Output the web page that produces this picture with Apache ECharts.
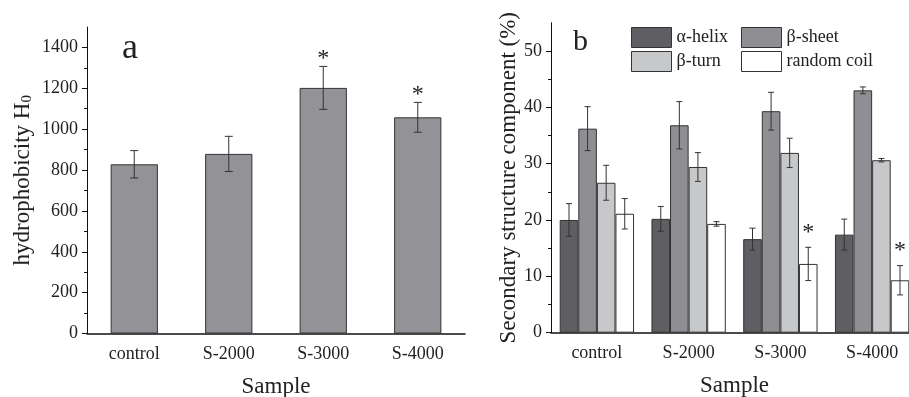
<!DOCTYPE html>
<html>
<head>
<meta charset="utf-8">
<script src="https://cdn.jsdelivr.net/npm/echarts@6/dist/echarts.min.js"></script>
<style>
  html, body { margin: 0; padding: 0; background: #fff; }
  #chart { width: 909px; height: 397px; }
</style>
</head>
<body>
<div id="chart"></div>
<script>
// ---- data ----
const samples = ["control", "S-2000", "S-3000", "S-4000"];

// panel a: surface hydrophobicity
const hydro = [828, 879, 1202, 1058];
const hydroErr = [67, 86, 105, 73];
const hydroSig = [0, 0, 1, 1];
const hydroTicks = [0, 200, 400, 600, 800, 1000, 1200, 1400];
const hydroMinor = [100, 300, 500, 700, 900, 1100, 1300];

// panel b: secondary structure (%)
const structNames = ["α-helix", "β-sheet", "β-turn", "random coil"];
const helix = [20.0, 20.2, 16.6, 17.4];
const helixErr = [2.9, 2.2, 1.95, 2.75];
const sheet = [36.2, 36.8, 39.3, 43.0];
const sheetErr = [3.9, 4.2, 3.35, 0.6];
const turn = [26.6, 29.4, 31.9, 30.6];
const turnErr = [3.1, 2.55, 2.6, 0.3];
const coil = [21.1, 19.3, 12.2, 9.3];
const coilErr = [2.7, 0.4, 2.95, 2.6];
const coilSig = [0, 0, 1, 1];
const structTicks = [0, 10, 20, 30, 40, 50];
const structMinor = [5, 15, 25, 35, 45];

const FONT = "Liberation Serif";
const INK = "#222";
const structColors = ["#5f5f63", "#8f8f93", "#c7c8ca", "#ffffff"];
const catGapB = 0.19;

const chart = echarts.init(document.getElementById("chart"));

function errorBar(index, count, capW, starShift) {
  return function (params, api) {
    const cat = api.value(0), v = api.value(1), e = api.value(2), sig = api.value(3);
    const bandW = api.size([1, 0])[0];
    let dx = 0;
    if (count > 1) {
      const bw = bandW * (1 - catGapB) / count;
      dx = (index - (count - 1) / 2) * bw;
    }
    const hi = api.coord([cat, v + e]);
    const lo = api.coord([cat, v - e]);
    const x = hi[0] + dx;
    const style = { stroke: "#333", lineWidth: 1 };
    const children = [
      { type: "line", shape: { x1: x, y1: hi[1], x2: x, y2: lo[1] }, style },
      { type: "line", shape: { x1: x - capW / 2, y1: hi[1], x2: x + capW / 2, y2: hi[1] }, style },
      { type: "line", shape: { x1: x - capW / 2, y1: lo[1], x2: x + capW / 2, y2: lo[1] }, style }
    ];
    if (sig) {
      children.push({
        type: "text",
        style: { text: "*", x: x, y: hi[1] + starShift, align: "center", verticalAlign: "bottom",
                 fontSize: 24, fontFamily: FONT, fill: INK }
      });
    }
    return { type: "group", children };
  };
}

function errData(vals, errs, sig) {
  return vals.map((v, i) => [i, v, errs[i], sig ? sig[i] : 0]);
}

const axisFont = { fontFamily: FONT, fontSize: 18, color: INK };
const nameFont = { fontFamily: FONT, fontSize: 23, color: INK };

function catAxes(grid, nameGap) {
  return [
    {
      type: "category", gridIndex: grid, data: samples, position: "bottom",
      name: "Sample", nameLocation: "middle", nameGap: nameGap, nameTextStyle: nameFont,
      axisLine: { lineStyle: { color: "#111", width: 1.5 } },
      axisTick: { alignWithLabel: true, length: 5, lineStyle: { color: "#111" } },
      axisLabel: Object.assign({ margin: 12 }, axisFont)
    },
    {
      type: "category", gridIndex: grid, data: samples, position: "bottom",
      axisLine: { show: false },
      axisTick: { alignWithLabel: false, length: 3, lineStyle: { color: "#111" } },
      axisLabel: { show: false }
    }
  ];
}

function valAxes(grid, max, ticks, minor, name, nameGap, rich) {
  return [
    {
      type: "value", gridIndex: grid, min: 0, max: max, position: "left",
      name: name, nameLocation: "middle", nameGap: nameGap,
      nameTextStyle: Object.assign({ rich: rich }, nameFont),
      axisLine: { show: true, lineStyle: { color: "#111", width: 1 } },
      axisTick: { show: true, length: 5, customValues: ticks, lineStyle: { color: "#111" } },
      axisLabel: Object.assign({ margin: 9, customValues: ticks, formatter: (v) => String(v) }, axisFont),
      splitLine: { show: false }
    },
    {
      type: "value", gridIndex: grid, min: 0, max: max, position: "left",
      axisLine: { show: false },
      axisTick: { show: true, length: 3, customValues: minor, lineStyle: { color: "#111" } },
      axisLabel: { show: false },
      splitLine: { show: false }
    }
  ];
}

const structVals = [helix, sheet, turn, coil];
const structErrs = [helixErr, sheetErr, turnErr, coilErr];

const series = [
  {
    type: "bar", name: "H0", xAxisIndex: 0, yAxisIndex: 0, data: hydro, barWidth: "50%",
    itemStyle: { color: "#939397", borderColor: "#333", borderWidth: 1 }
  },
  {
    type: "custom", xAxisIndex: 0, yAxisIndex: 0, z: 5,
    renderItem: errorBar(0, 1, 8, 4), data: errData(hydro, hydroErr, hydroSig), encode: { x: 0, y: 1 }
  }
];
structNames.forEach((n, k) => {
  series.push({
    type: "bar", name: n, xAxisIndex: 2, yAxisIndex: 2, data: structVals[k],
    barGap: "0%", barCategoryGap: (catGapB * 100) + "%",
    itemStyle: { color: structColors[k], borderColor: "#333", borderWidth: 1 }
  });
});
structNames.forEach((n, k) => {
  series.push({
    type: "custom", xAxisIndex: 2, yAxisIndex: 2, z: 5,
    renderItem: errorBar(k, 4, 6, -3),
    data: errData(structVals[k], structErrs[k], k === 3 ? coilSig : null),
    encode: { x: 0, y: 1 }
  });
});

const legendBase = {
  orient: "vertical", top: 22, itemWidth: 40, itemHeight: 20, itemGap: 3,
  icon: "rect", textStyle: { fontFamily: FONT, fontSize: 18, color: INK },
  itemStyle: { borderColor: "#333", borderWidth: 1 }, selectedMode: false
};

chart.setOption({
  animation: false,
  backgroundColor: "#fff",
  grid: [
    { left: 87, right: 444, top: 27, bottom: 63.5, outerBoundsMode: "none", containLabel: false },
    { left: 551, right: -9, top: 22.7, bottom: 64.3, outerBoundsMode: "none", containLabel: false }
  ],
  title: [
    { text: "a", left: 117, top: 26, textStyle: { fontFamily: FONT, fontSize: 36, fontWeight: "normal", color: INK } },
    { text: "b", left: 568, top: 22, textStyle: { fontFamily: FONT, fontSize: 30, fontWeight: "normal", color: INK } }
  ],
  legend: [
    Object.assign({ left: 626, data: [structNames[0], structNames[2]] }, legendBase),
    Object.assign({ left: 736, data: [structNames[1], structNames[3]] }, legendBase)
  ],
  xAxis: catAxes(0, 42).concat(catAxes(1, 42)),
  yAxis: valAxes(0, 1500, hydroTicks, hydroMinor, "{a|hydrophobicity H}{b|0}", 52,
                 { a: { fontFamily: FONT, fontSize: 23, color: INK },
                   b: { fontFamily: FONT, fontSize: 15, color: INK, padding: [10, 0, 0, 0] } })
    .concat(valAxes(1, 55, structTicks, structMinor, "Secondary structure component (%)", 30, {})),
  series: series
});
</script>
</body>
</html>
